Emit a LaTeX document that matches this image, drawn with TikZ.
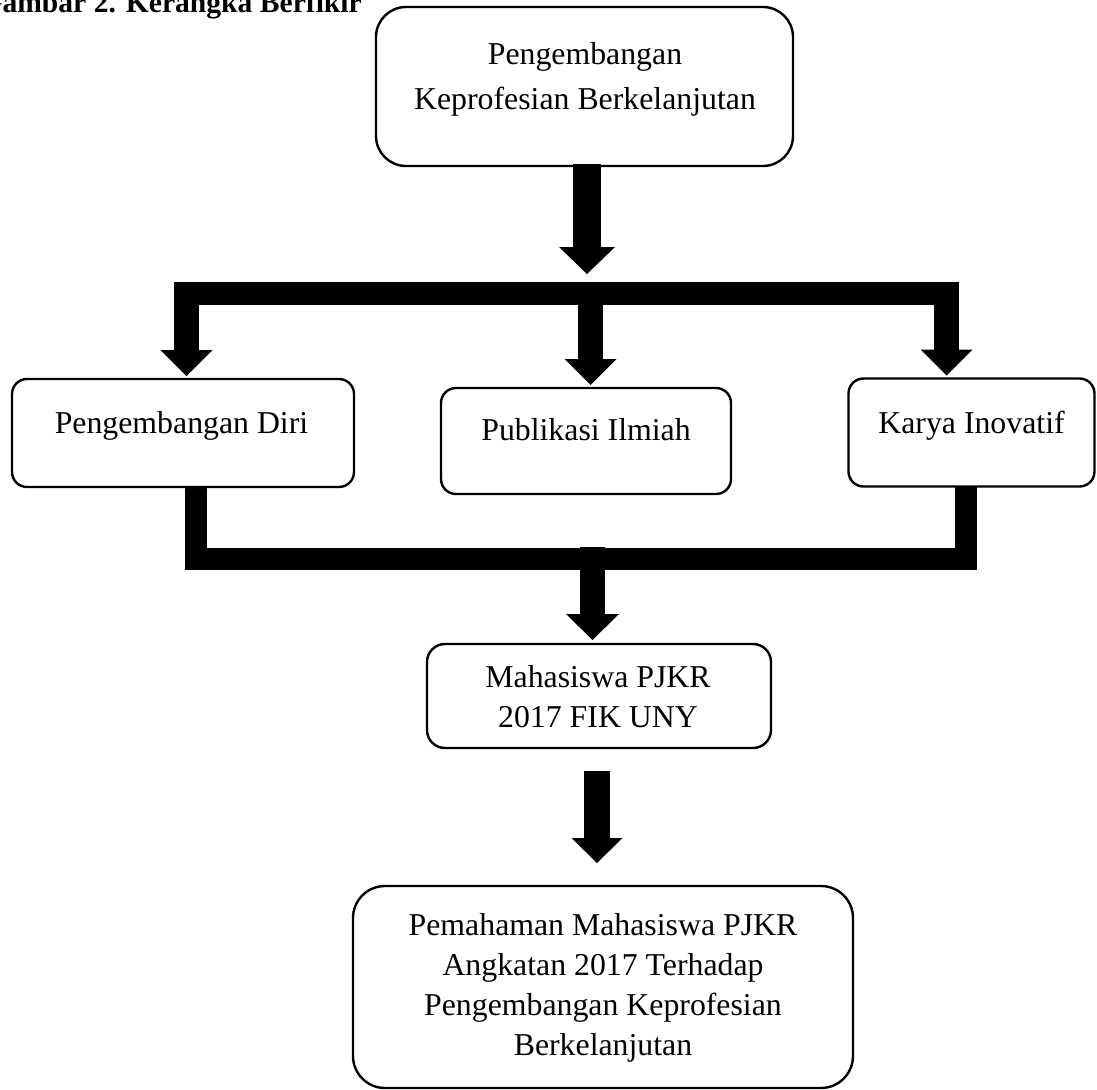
\documentclass[tikz,border=0pt]{standalone}
\usepackage{fontspec}
\setmainfont{Liberation Serif}
\usetikzlibrary{arrows.meta,calc}
\begin{document}
\begin{tikzpicture}[x=1pt,y=-1pt,
  box/.style={draw=black, line width=2.4pt, rounded corners=#1, inner sep=0pt, outer sep=0pt},
  txt/.style={anchor=base, inner sep=0pt, outer sep=0pt, font=\fontsize{31.8}{40}\selectfont},
  ttl/.style={anchor=base east, inner sep=0pt, font=\fontsize{29.6}{34}\selectfont\bfseries},
  shaft/.style={draw=black, line width=#1, line cap=butt, line join=miter},
  tipA/.style={-{Triangle[width=56pt,length=27pt,line width=0pt]}},
  tipB/.style={-{Triangle[width=52pt,length=26pt,line width=0pt]}}
]
\useasboundingbox (0,0) rectangle (1097,1089);
\clip (0,0) rectangle (1097,1089);

% title (cut off at the left edge, as in the reference)
\node[ttl] (title) at (362,12.3) {Gambar 2. Kerangka Berfikir};

% boxes
\node[box=30pt, minimum width=417pt, minimum height=159pt] (top) at (584.5,86.5) {};
\node[box=15pt, minimum width=342pt, minimum height=108pt] (diri) at (183,433) {};
\node[box=15pt, minimum width=290pt, minimum height=106pt] (publ) at (586,441) {};
\node[box=15pt, minimum width=246pt, minimum height=108pt] (karya) at (971.5,432.5) {};
\node[box=18pt, minimum width=344pt, minimum height=104pt] (maha) at (599,696) {};
\node[box=32pt, minimum width=500pt, minimum height=202pt] (paham) at (603,987) {};

% texts
\node[txt] (top1) at (585,65) {Pengembangan};
\node[txt] (top2) at (585,109.5) {Keprofesian Berkelanjutan};
\node[txt] (diriT) at (181.5,433.3) {Pengembangan Diri};
\node[txt] (publT) at (586,440) {Publikasi Ilmiah};
\node[txt] (karyaT) at (971.5,433) {Karya Inovatif};
\node[txt] (maha1) at (598,687) {Mahasiswa PJKR};
\node[txt] (maha2) at (598,727) {2017 FIK UNY};
\node[txt] (paham1) at (603,935) {Pemahaman Mahasiswa PJKR};
\node[txt] (paham2) at (603,975) {Angkatan 2017 Terhadap};
\node[txt] (paham3) at (603,1015) {Pengembangan Keprofesian};
\node[txt] (paham4) at (603,1055) {Berkelanjutan};

% junction coordinates
\coordinate (a1s) at ($(top.south)+(2.5,-2)$);
\coordinate (a1e) at (587,274);
\coordinate (barL) at (174,293.5);
\coordinate (barR) at (959,293.5);
\coordinate (dL) at (186.5,282);
\coordinate (dM) at (590.5,282);
\coordinate (dR) at (946.5,282);
\coordinate (botL) at (195.5,559);
\coordinate (botR) at (966,559);
\coordinate (mS) at (592.5,547);
\coordinate (a5s) at (597,771);
\coordinate (a5e) at (597,863);

% top arrow
\draw[shaft=28pt, tipA] (a1s) -- (a1e);
% distribution bar
\draw[shaft=23pt] (barL) -- (barR);
\draw[shaft=25pt, tipB] (dL) -- ($(diri.north)+(3.5,-3)$);
\draw[shaft=25pt, tipB] (dM) -- ($(publ.north)+(4.5,-3)$);
\draw[shaft=25pt, tipB] (dR) -- ($(karya.north)+(-25,-3)$);
% collecting bar
\draw[shaft=22pt] ($(diri.south)+(12.5,0)$) -- (botL) -- (botR) -- ($(karya.south)+(-5.5,0)$);
\draw[shaft=25pt, -{Triangle[width=53pt,length=26pt,line width=0pt]}] (mS) -- ($(maha.north)+(-6.5,-4)$);
% last arrow
\draw[shaft=26pt, -{Triangle[width=51pt,length=25pt,line width=0pt]}] (a5s) -- (a5e);
\end{tikzpicture}
\end{document}
